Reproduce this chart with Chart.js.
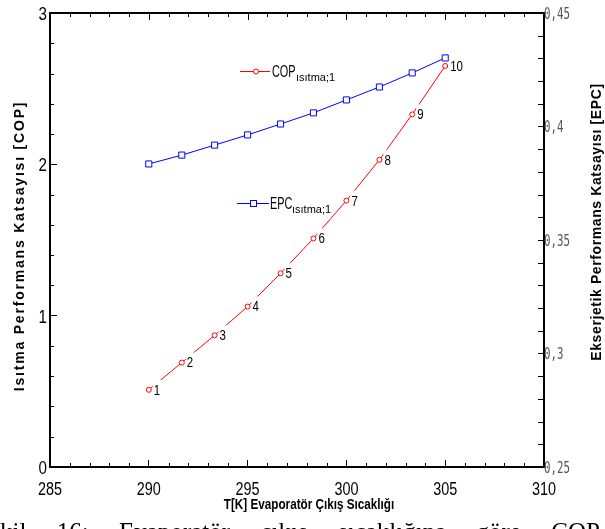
<!DOCTYPE html>
<html>
<head>
<meta charset="utf-8">
<script src="https://cdn.jsdelivr.net/npm/chart.js@4.4.0/dist/chart.umd.min.js"></script>
<style>
  body { margin: 0; background: #fff; }
  #wrap { width: 605px; height: 529px; }
</style>
</head>
<body>
<div id="wrap"><canvas id="chart" width="605" height="529"></canvas></div>
<script>
// data
const temps = [290, 291.67, 293.33, 295, 296.67, 298.33, 300, 301.67, 303.33, 305];
const copValues = [0.51, 0.69, 0.87, 1.06, 1.28, 1.51, 1.76, 2.03, 2.33, 2.65];
const epcValues = [0.3835, 0.3874, 0.3918, 0.3963, 0.4011, 0.406, 0.4117, 0.4174, 0.4236, 0.4302];
const pointNames = ['1', '2', '3', '4', '5', '6', '7', '8', '9', '10'];
const xTicks = [285, 290, 295, 300, 305, 310];
const copTicks = [0, 1, 2, 3];
const epcTicks = [0.25, 0.3, 0.35, 0.4, 0.45];

const xTitle = 'T[K] Evaporatör Çıkış Sıcaklığı';
const copTitle = 'Isıtma Performans Katsayısı [COP]';
const epcTitle = 'Ekserjetik Performans Katsayısı [EPC]';
const caption = 'kil 16: Evaporatör çıkış sıcaklığına göre COP';

const sans = "'Liberation Sans', Arial, sans-serif";

const setTicks = list => scale => { scale.ticks = list.map(v => ({ value: v })); };

// text squeezed sideways, the figure uses a condensed face
function squeezed(ctx, text, x, y, align, sx) {
    ctx.save();
    ctx.translate(x, y);
    ctx.scale(sx, 1);
    ctx.textAlign = align;
    ctx.fillText(text, 0, 0);
    ctx.restore();
}

const extras = {
    id: 'extras',
    afterDatasetsDraw(chart) {
        const ctx = chart.ctx;
        const meta = chart.getDatasetMeta(0);
        ctx.save();
        ctx.font = '14px ' + sans;
        ctx.textBaseline = 'middle';
        meta.data.forEach((pt, i) => {
            const tx = pt.x + 5;
            const w = ctx.measureText(pointNames[i]).width * 0.82;
            ctx.fillStyle = '#fff';
            ctx.fillRect(tx - 1, pt.y - 10, w + 3, 17);
            ctx.fillStyle = '#000';
            squeezed(ctx, pointNames[i], tx, pt.y + 1, 'left', 0.82);
        });
        ctx.restore();
    },
    afterDraw(chart) {
        const ctx = chart.ctx, a = chart.chartArea;
        const { x, y, y2 } = chart.scales;
        ctx.save();
        ctx.strokeStyle = '#000';
        ctx.lineWidth = 2;
        ctx.beginPath();
        ctx.moveTo(a.left - 1, a.top);
        ctx.lineTo(a.right + 1, a.top);
        ctx.stroke();

        // minor ticks
        ctx.lineWidth = 1;
        ctx.beginPath();
        for (let v = x.min; v <= x.max + 1e-6; v += 1) {
            const px = Math.round(x.getPixelForValue(v)) + 0.5;
            const major = Math.abs(v % 5) < 1e-6;
            if (!major) {
                ctx.moveTo(px, a.bottom); ctx.lineTo(px, a.bottom - 4);
            }
            ctx.moveTo(px, a.top); ctx.lineTo(px, a.top + (major ? 7 : 4));
        }
        for (let i = 0; i <= 15; i++) {
            if (i % 5 === 0) continue;
            const py = Math.round(y.getPixelForValue(i * 0.2)) + 0.5;
            ctx.moveTo(a.left, py); ctx.lineTo(a.left + 4, py);
        }
        for (let i = 0; i <= 20; i++) {
            if (i % 5 === 0) continue;
            const py = Math.round(y2.getPixelForValue(0.25 + i * 0.01)) + 0.5;
            ctx.moveTo(a.right, py); ctx.lineTo(a.right - 6, py);
        }
        ctx.stroke();

        // tick labels
        ctx.fillStyle = '#000';
        ctx.textBaseline = 'alphabetic';
        ctx.font = '18px ' + sans;
        x.ticks.forEach(t => squeezed(ctx, String(t.value), x.getPixelForValue(t.value), 495, 'center', 0.8));
        ctx.font = '19px ' + sans;
        y.ticks.forEach(t => squeezed(ctx, String(t.value), 47, y.getPixelForValue(t.value) + 7, 'right', 0.8));
        ctx.fillStyle = '#555';
        ctx.font = "15px 'DejaVu Sans Mono', 'Liberation Mono', monospace";
        y2.ticks.forEach(t => {
            const txt = String(Number(t.value.toFixed(2))).replace('.', ',');
            squeezed(ctx, txt, 544, y2.getPixelForValue(t.value) + 5.5, 'left', 0.72);
        });

        // legend
        const sets = chart.data.datasets;
        ctx.lineWidth = 1;
        ctx.strokeStyle = sets[0].borderColor;
        ctx.beginPath(); ctx.moveTo(240, 71.5); ctx.lineTo(270, 71.5); ctx.stroke();
        ctx.fillStyle = '#fff';
        ctx.beginPath(); ctx.arc(256, 71.5, 2.5, 0, Math.PI * 2); ctx.fill(); ctx.stroke();
        ctx.strokeStyle = sets[1].borderColor;
        ctx.beginPath(); ctx.moveTo(237, 203.5); ctx.lineTo(269, 203.5); ctx.stroke();
        ctx.fillRect(250.5, 200.5, 6, 6); ctx.strokeRect(250.5, 200.5, 6, 6);

        ctx.fillStyle = '#000';
        ctx.font = '17px ' + sans;
        squeezed(ctx, 'COP', 272, 77, 'left', 0.64);
        squeezed(ctx, 'EPC', 270, 209, 'left', 0.64);
        ctx.font = '11px ' + sans;
        ctx.textAlign = 'left';
        ctx.fillText('ısıtma;1', 296, 81);
        ctx.fillText('ısıtma;1', 292, 213);

        // axis titles
        ctx.textBaseline = 'middle';
        ctx.font = 'bold 15px ' + sans;
        squeezed(ctx, xTitle, 309, 505, 'center', 0.78);
        ctx.font = 'bold 14px ' + sans;
        ctx.textAlign = 'center';
        ctx.save();
        ctx.letterSpacing = '1.8px';
        ctx.translate(20, 246); ctx.rotate(-Math.PI / 2);
        ctx.fillText(copTitle, 0, 0);
        ctx.restore();
        ctx.save();
        ctx.letterSpacing = '0.6px';
        ctx.translate(597, 222); ctx.rotate(-Math.PI / 2);
        ctx.fillText(epcTitle, 0, 0);
        ctx.restore();

        // caption line, cut by the bottom edge
        ctx.font = "25px 'Liberation Serif', 'Times New Roman', serif";
        ctx.textAlign = 'left';
        ctx.textBaseline = 'alphabetic';
        const words = caption.split(' ');
        const widths = words.map(t => ctx.measureText(t).width);
        const gap = (600 - widths.reduce((s, v) => s + v, 0)) / (words.length - 1);
        let cx = 0;
        words.forEach((t, i) => { ctx.fillText(t, cx, 540); cx += widths[i] + gap; });
        ctx.restore();
    }
};

const chart = new Chart(document.getElementById('chart'), {
    type: 'line',
    data: {
        datasets: [
            {
                label: 'COP',
                data: temps.map((t, i) => ({ x: t, y: copValues[i] })),
                borderColor: '#ff0000',
                backgroundColor: '#ffffff',
                borderWidth: 1,
                pointStyle: 'circle',
                pointRadius: 2.5,
                pointBorderWidth: 1,
                yAxisID: 'y'
            },
            {
                label: 'EPC',
                data: temps.map((t, i) => ({ x: t, y: epcValues[i] })),
                borderColor: '#0000ff',
                backgroundColor: '#ffffff',
                borderWidth: 1,
                pointStyle: 'rect',
                pointRadius: 4.3,
                pointBorderWidth: 1,
                yAxisID: 'y2'
            }
        ]
    },
    options: {
        responsive: false,
        animation: false,
        layout: { padding: { top: 13 } },
        plugins: { legend: { display: false }, tooltip: { enabled: false } },
        scales: {
            x: {
                type: 'linear',
                min: 285, max: 310,
                afterBuildTicks: setTicks(xTicks),
                afterFit: s => { s.height = 62; },
                border: { color: '#000', width: 2 },
                grid: { drawOnChartArea: false, tickLength: -7, color: '#000' },
                ticks: { display: false }
            },
            y: {
                min: 0, max: 3,
                afterBuildTicks: setTicks(copTicks),
                afterFit: s => { s.width = 50; },
                border: { color: '#000', width: 2 },
                grid: { drawOnChartArea: false, tickLength: -7, color: '#000' },
                ticks: { display: false }
            },
            y2: {
                position: 'right',
                min: 0.25, max: 0.45,
                afterBuildTicks: setTicks(epcTicks),
                afterFit: s => { s.width = 61; },
                border: { color: '#000', width: 2 },
                grid: { drawOnChartArea: false, tickLength: -6, color: '#000' },
                ticks: { display: false }
            }
        }
    },
    plugins: [extras]
});
</script>
</body>
</html>
